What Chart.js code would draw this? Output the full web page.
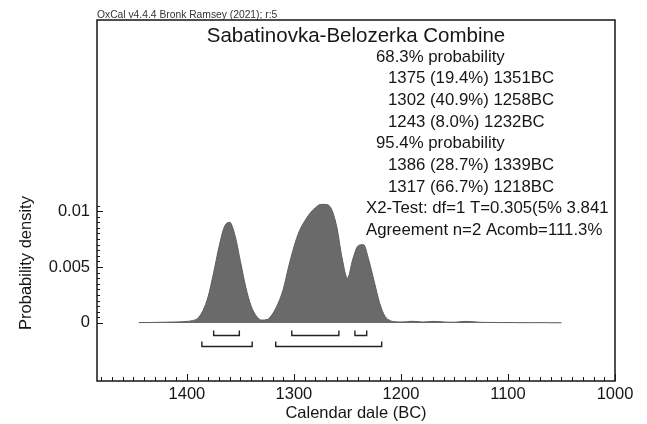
<!DOCTYPE html>
<html>
<head>
<meta charset="utf-8">
<script src="https://cdn.jsdelivr.net/npm/chart.js@4.4.1/dist/chart.umd.min.js"></script>
<style>
  html, body { margin: 0; padding: 0; background: #ffffff; }
  #wrap { width: 647px; height: 424px; }
  canvas { display: block; }
</style>
</head>
<body>
<div id="wrap"><canvas id="c" width="647" height="424"></canvas></div>
<script>
// Calendar years (BC) of the combined probability distribution
const years = [
  1445, 1440, 1435, 1430, 1425, 1420, 1415, 1410, 1405, 1400,
  1395, 1390, 1385, 1380, 1375, 1370, 1365, 1360, 1355, 1350,
  1345, 1340, 1335, 1330, 1325, 1320, 1315, 1310, 1305, 1300,
  1295, 1290, 1285, 1280, 1275, 1270, 1265, 1260, 1255, 1250,
  1245, 1240, 1235, 1230, 1225, 1220, 1215, 1210, 1205, 1200,
  1195, 1190, 1185, 1180, 1175, 1170, 1165, 1160, 1155, 1150,
  1145, 1140, 1135, 1130, 1125, 1120, 1115, 1110, 1105, 1100,
  1095, 1090, 1085, 1080, 1075, 1070, 1065, 1060, 1055, 1050
];

// Probability density at each year
const density = [
  0.00002, 0.00003, 0.00003, 0.00004, 0.00005, 0.00006, 0.00007, 0.00008, 0.0001, 0.00013,
  0.0002, 0.0004, 0.0011, 0.0024, 0.0045, 0.0068, 0.0086, 0.0090, 0.0078, 0.0055,
  0.0032, 0.0015, 0.0006, 0.00025, 0.0003, 0.0008, 0.0017, 0.0030, 0.0050, 0.0068,
  0.0082, 0.0091, 0.0098, 0.0103, 0.0106, 0.0106, 0.0102, 0.0086, 0.0058, 0.0040,
  0.0057, 0.0069, 0.0070, 0.0056, 0.0037, 0.0018, 0.0006, 0.0002, 0.0001, 0.00008,
  0.0001, 0.00014, 0.00012, 0.00008, 0.0001, 0.00013, 0.00012, 0.00008, 0.00006, 0.00006,
  0.0001, 0.00013, 0.00012, 0.00008, 0.00005, 0.00004, 0.00004, 0.00003, 0.00003, 0.00003,
  0.00003, 0.00002, 0.00002, 0.00002, 0.00002, 0.00002, 0.00002, 0.00001, 0.00001, 0.00001
];

// Highest posterior density ranges (from, to, share of probability)
const ranges68 = [[1375, 1351], [1302, 1258], [1243, 1232]];
const pct68 = [19.4, 40.9, 8.0];
const ranges95 = [[1386, 1339], [1317, 1218]];
const pct95 = [28.7, 66.7];

// Axis tick labels
const xTicks = [1400, 1300, 1200, 1100, 1000];
const yTicks = [0, 0.005, 0.01];

const headerText = 'OxCal v4.4.4 Bronk Ramsey (2021); r:5';
const titleText = 'Sabatinovka-Belozerka Combine';
const testText = 'X2-Test: df=1 T=0.305(5% 3.841';
const agreementText = 'Agreement n=2 Acomb=111.3%';
const xTitle = 'Calendar dale (BC)';
const yTitle = 'Probability density';

const FONT = "'Liberation Sans', Arial, Helvetica, sans-serif";
const INK = '#161616';

function rangeLine(r, p) {
  return r[0] + ' (' + p.toFixed(1) + '%) ' + r[1] + 'BC';
}

const summary = [
  { text: '68.3% probability', indent: 1 },
  ...ranges68.map((r, i) => ({ text: rangeLine(r, pct68[i]), indent: 2 })),
  { text: '95.4% probability', indent: 1 },
  ...ranges95.map((r, i) => ({ text: rangeLine(r, pct95[i]), indent: 2 })),
  { text: testText, indent: 0 },
  { text: agreementText, indent: 0 }
];

// Frame, inward ticks, range brackets and annotation text
const oxcalDecor = {
  id: 'oxcalDecor',
  afterDraw(chart) {
    const { ctx, chartArea: a, scales: { x, y } } = chart;
    ctx.save();

    // plot frame
    ctx.strokeStyle = INK;
    ctx.lineWidth = 1.5;
    ctx.strokeRect(a.left, a.top, a.right - a.left, a.bottom - a.top);

    // x ticks pointing inward, every 10 years, longer every 100
    ctx.lineWidth = 1;
    ctx.beginPath();
    for (let v = 1000; v <= 1480; v += 10) {
      const px = Math.round(x.getPixelForValue(v)) + 0.5;
      const len = v % 100 === 0 ? 7 : 4;
      ctx.moveTo(px, a.bottom);
      ctx.lineTo(px, a.bottom - len);
    }
    // y ticks pointing inward
    for (let i = 0; i <= 21; i++) {
      const py = Math.round(y.getPixelForValue(i * 0.0005)) + 0.5;
      const len = i % 10 === 0 ? 6 : 3;
      ctx.moveTo(a.left, py);
      ctx.lineTo(a.left + len, py);
    }
    ctx.stroke();

    // range brackets below the distribution
    const y0 = y.getPixelForValue(0);
    const drawBrackets = (ranges, off) => {
      ctx.beginPath();
      ranges.forEach(([from, to]) => {
        const x1 = x.getPixelForValue(from);
        const x2 = x.getPixelForValue(to);
        const yb = Math.round(y0 + off) + 0.5;
        ctx.moveTo(x1, yb - 5);
        ctx.lineTo(x1, yb);
        ctx.lineTo(x2, yb);
        ctx.lineTo(x2, yb - 5);
      });
      ctx.stroke();
    };
    ctx.strokeStyle = '#222';
    ctx.lineWidth = 1.4;
    drawBrackets(ranges68, 12.5);
    drawBrackets(ranges95, 23);

    // header above the frame
    ctx.fillStyle = '#333';
    ctx.font = '10.3px ' + FONT;
    ctx.textAlign = 'left';
    ctx.textBaseline = 'alphabetic';
    ctx.fillText(headerText, a.left, a.top - 2);

    // title and summary, clipped to the plot area
    ctx.save();
    ctx.beginPath();
    ctx.rect(a.left, a.top, a.right - a.left - 3, a.bottom - a.top);
    ctx.clip();
    ctx.fillStyle = INK;
    ctx.font = '20.5px ' + FONT;
    ctx.textAlign = 'center';
    ctx.fillText(titleText, (a.left + a.right) / 2, a.top + 21.5);
    ctx.font = '16.8px ' + FONT;
    ctx.textAlign = 'left';
    const indentX = [366, 376, 388];
    summary.forEach((line, i) => {
      ctx.fillText(line.text, indentX[line.indent], a.top + 41.7 + i * 21.66);
    });
    ctx.restore();

    // y-axis title
    ctx.save();
    ctx.fillStyle = INK;
    ctx.font = '16.5px ' + FONT;
    ctx.translate(31, 263);
    ctx.rotate(-Math.PI / 2);
    ctx.textAlign = 'center';
    ctx.textBaseline = 'alphabetic';
    ctx.fillText(yTitle, 0, 0);
    ctx.restore();

    ctx.restore();
  }
};

new Chart(document.getElementById('c'), {
  type: 'line',
  data: {
    datasets: [{
      data: years.map((yr, i) => ({ x: yr, y: density[i] })),
      fill: 'origin',
      backgroundColor: '#6a6a6a',
      borderColor: '#5c5c5c',
      borderWidth: 1,
      pointRadius: 0,
      cubicInterpolationMode: 'monotone'
    }]
  },
  options: {
    responsive: false,
    animation: false,
    devicePixelRatio: 1,
    layout: { padding: { top: 20, right: 32, bottom: 0, left: 0 } },
    plugins: { legend: { display: false }, tooltip: { enabled: false } },
    scales: {
      x: {
        type: 'linear',
        reverse: true,
        min: 1000,
        max: 1484,
        afterBuildTicks: s => { s.ticks = xTicks.map(v => ({ value: v })); },
        afterFit: s => { s.height = 43; },
        grid: { display: false, drawTicks: false },
        border: { display: false },
        ticks: {
          autoSkip: false,
          maxRotation: 0,
          padding: 4,
          color: INK,
          font: { family: FONT, size: 16.5 },
          callback: v => String(v)
        },
        title: {
          display: true,
          text: xTitle,
          color: INK,
          font: { family: FONT, size: 16.5 },
          padding: { top: 0, bottom: 1 }
        }
      },
      y: {
        type: 'linear',
        min: -0.0052,
        max: 0.0271,
        afterBuildTicks: s => { s.ticks = yTicks.map(v => ({ value: v })); },
        afterFit: s => { s.width = 97; },
        grid: { display: false, drawTicks: false },
        border: { display: false },
        ticks: {
          padding: 7,
          color: INK,
          font: { family: FONT, size: 16.5 },
          callback: v => String(v)
        }
      }
    }
  },
  plugins: [oxcalDecor]
});
</script>
</body>
</html>
